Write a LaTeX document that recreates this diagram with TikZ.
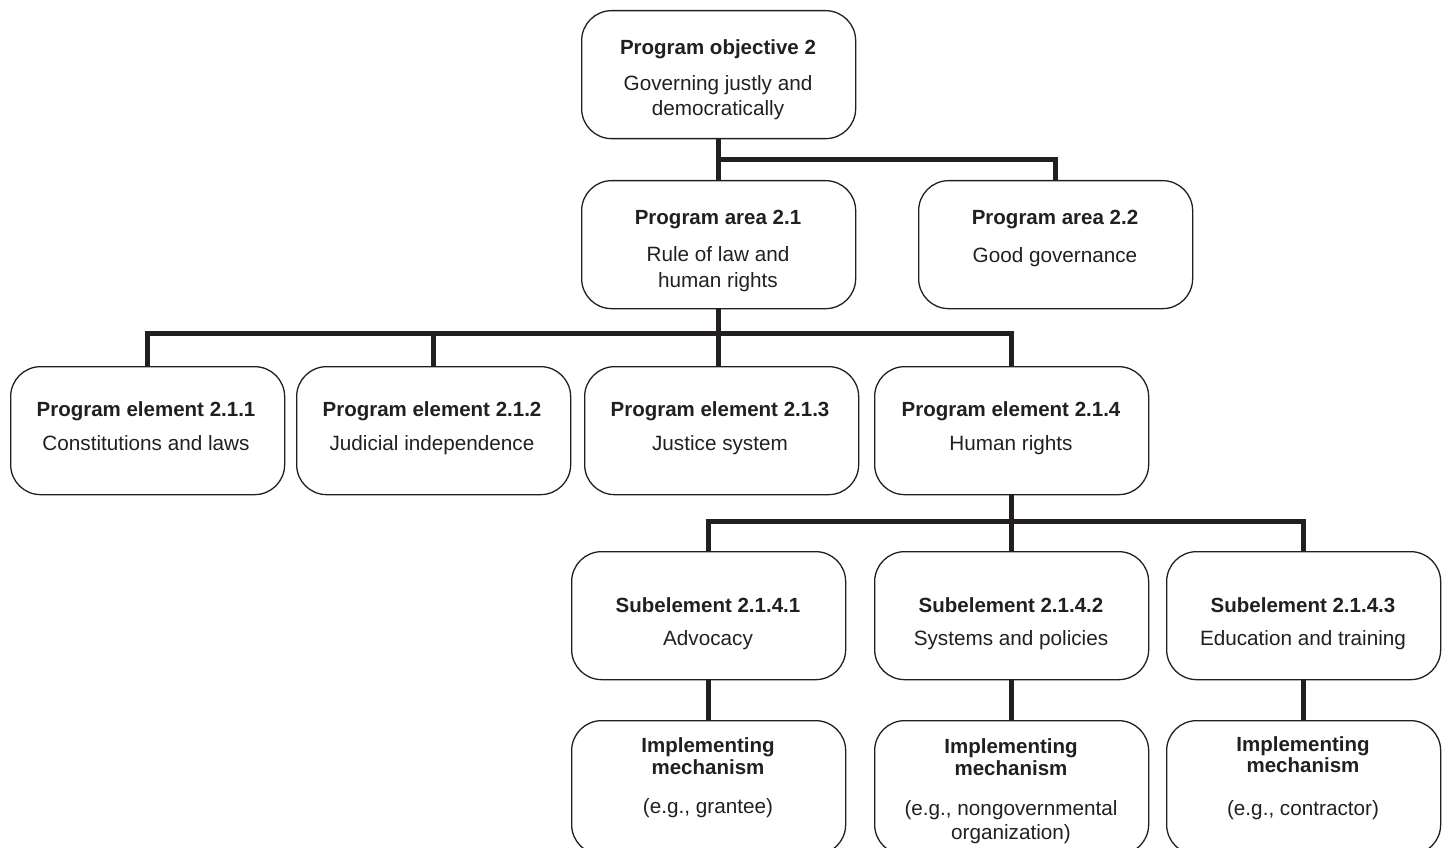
\documentclass[tikz,border=0pt]{standalone}
\usepackage{fontspec}
\setmainfont{Liberation Sans}
\definecolor{ink}{HTML}{231F20}
\begin{document}
\begin{tikzpicture}[x=1pt,y=-1pt,
  box/.style={draw=ink, line width=1.3pt, rounded corners=30pt, minimum width=274pt, minimum height=128pt, inner sep=0pt, anchor=north west},
  conn/.style={draw=ink, line width=5pt, line join=miter},
  ttl/.style={font=\bfseries\fontsize{20.5}{24}\selectfont, text=ink, anchor=base, inner sep=0pt},
  bdy/.style={font=\fontsize{20.7}{25}\selectfont, text=ink, anchor=base, inner sep=0pt}]
\useasboundingbox (0,0) rectangle (1444,848);
\clip (0,0) rectangle (1444,848);
% boxes
\node[box] (po)  at (581,10)  {};
\node[box] (pa1) at (581,180) {};
\node[box] (pa2) at (918,180) {};
\node[box] (pe1) at (10,366)  {};
\node[box] (pe2) at (296,366) {};
\node[box] (pe3) at (584,366) {};
\node[box] (pe4) at (874,366) {};
\node[box] (se1) at (571,551) {};
\node[box] (se2) at (874,551) {};
\node[box] (se3) at (1166,551) {};
\node[box, minimum height=134pt] (im1) at (571,720) {};
\node[box, minimum height=134pt] (im2) at (874,720) {};
\node[box, minimum height=134pt] (im3) at (1166,720) {};
% connectors
\coordinate (b1) at (718,160);
\coordinate (b2) at (718,333);
\coordinate (b3) at (1011,521);
\draw[conn] (po.south) -- (pa1.north);
\draw[conn] (b1) -| (pa2.north);
\draw[conn] (pa1.south) -- (pa1.south |- pe3.north);
\draw[conn] (pe1.north) |- (b2) -| (pe4.north);
\draw[conn] (pe2.north) -- (pe2.north |- b2);
\draw[conn] (pe4.south) -- (se2.north);
\draw[conn] (se1.north) |- (b3) -| (se3.north);
\draw[conn] (se1.south) -- (im1.north);
\draw[conn] (se2.south) -- (im2.north);
\draw[conn] (se3.south) -- (im3.north);
% texts
\node[ttl] (po-t) at (718,55) {Program objective 2};
\node[bdy] (po-a) at (718,91) {Governing justly and};
\node[bdy] (po-b) at (718,116) {democratically};
\node[ttl] (pa1-t) at (718,224) {Program area 2.1};
\node[bdy] (pa1-a) at (718,261) {Rule of law and};
\node[bdy] (pa1-b) at (718,287) {human rights};
\node[ttl] (pa2-t) at (1055,224) {Program area 2.2};
\node[bdy] (pa2-a) at (1055,262) {Good governance};
\node[ttl] (pe1-t) at (146,416) {Program element 2.1.1};
\node[bdy] (pe1-a) at (146,450) {Constitutions and laws};
\node[ttl] (pe2-t) at (432,416) {Program element 2.1.2};
\node[bdy] (pe2-a) at (432,450) {Judicial independence};
\node[ttl] (pe3-t) at (720,416) {Program element 2.1.3};
\node[bdy] (pe3-a) at (720,450) {Justice system};
\node[ttl] (pe4-t) at (1011,416) {Program element 2.1.4};
\node[bdy] (pe4-a) at (1011,450) {Human rights};
\node[ttl] (se1-t) at (708,612) {Subelement 2.1.4.1};
\node[bdy] (se1-a) at (708,645) {Advocacy};
\node[ttl] (se2-t) at (1011,612) {Subelement 2.1.4.2};
\node[bdy] (se2-a) at (1011,645) {Systems and policies};
\node[ttl] (se3-t) at (1303,612) {Subelement 2.1.4.3};
\node[bdy] (se3-a) at (1303,645) {Education and training};
\node[ttl] (im1-t) at (708,752) {Implementing};
\node[ttl] (im1-u) at (708,774) {mechanism};
\node[bdy] (im1-a) at (708,813) {(e.g., grantee)};
\node[ttl] (im2-t) at (1011,753) {Implementing};
\node[ttl] (im2-u) at (1011,775) {mechanism};
\node[bdy] (im2-a) at (1011,815) {(e.g., nongovernmental};
\node[bdy] (im2-b) at (1011,839) {organization)};
\node[ttl] (im3-t) at (1303,751) {Implementing};
\node[ttl] (im3-u) at (1303,772) {mechanism};
\node[bdy] (im3-a) at (1303,815) {(e.g., contractor)};
\end{tikzpicture}
\end{document}
